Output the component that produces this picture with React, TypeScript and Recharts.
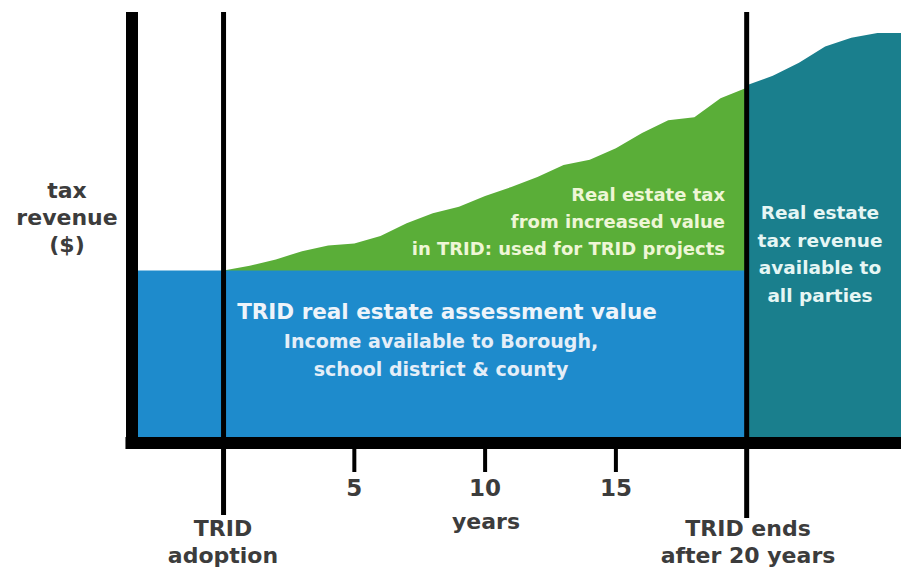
import React from "react";
import {
  ComposedChart,
  Area,
  XAxis,
  YAxis,
  ReferenceLine,
} from "recharts";

// years since TRID adoption (-3.5 = left edge, 25.9 = right edge)
const years = [
  -3.5, 0, 1, 2, 3, 4, 5, 6, 7, 8, 9, 10, 11, 12, 13, 14, 15, 16, 17, 18, 19, 20,
  21, 22, 23, 24, 25, 25.9,
];

// assessed base value revenue (blue)
const baseRevenue = [
  40, 40, 40, 40, 40, 40, 40, 40, 40, 40, 40, 40, 40, 40, 40, 40, 40, 40, 40, 40, 40, 40,
  null, null, null, null, null, null,
];

// total revenue while TRID is active (green part = increment above base)
const tridRevenue = [
  null, 40, 41.1, 42.6, 44.5, 45.8, 46.3, 48.0, 51.0, 53.3, 54.8, 57.3, 59.4, 61.7,
  64.5, 65.7, 68.4, 71.9, 74.9, 75.6, 80.0, 82.4,
  null, null, null, null, null, null,
];

// revenue after TRID ends (teal)
const afterRevenue = [
  null, null, null, null, null, null, null, null, null, null, null, null, null, null,
  null, null, null, null, null, null, null, 83.0,
  85.2, 88.2, 92.0, 94.0, 95.1, 95.1,
];

const xTicks = [5, 10, 15];

const chartData = years.map((year, i) => ({
  year,
  base: baseRevenue[i],
  trid: tridRevenue[i],
  after: afterRevenue[i],
}));

const FONT = "'DejaVu Sans', sans-serif";
const BLUE = "#1e8bcc";
const GREEN = "#5aae38";
const TEAL = "#1a7f8d";
const AXIS_TEXT = "#3c3c3c";

const textBase: React.CSSProperties = {
  position: "absolute",
  fontFamily: FONT,
  fontWeight: "bold",
  whiteSpace: "nowrap",
  lineHeight: 1,
};

export default function App() {
  return (
    <div
      style={{
        position: "absolute",
        left: 0,
        top: 0,
        width: 906,
        height: 571,
        background: "#fff",
      }}
    >
      <ComposedChart
        width={906}
        height={571}
        data={chartData}
        margin={{ top: 12, right: 5, left: 132, bottom: 68 }}
      >
        <XAxis
          dataKey="year"
          type="number"
          domain={[-3.5, 25.9]}
          ticks={xTicks}
          height={60}
          axisLine={false}
          tickSize={29}
          tickMargin={8}
          tickLine={{ stroke: "#000", strokeWidth: 4 }}
          tick={{ fill: AXIS_TEXT, fontSize: 23, fontWeight: "bold", fontFamily: FONT }}
        />
        <YAxis hide type="number" domain={[0, 100]} />
        <Area
          dataKey="trid"
          type="linear"
          fill={GREEN}
          fillOpacity={1}
          stroke="none"
          baseValue={0}
          isAnimationActive={false}
        />
        <Area
          dataKey="after"
          type="linear"
          fill={TEAL}
          fillOpacity={1}
          stroke="none"
          baseValue={0}
          isAnimationActive={false}
        />
        <Area
          dataKey="base"
          type="linear"
          fill={BLUE}
          fillOpacity={1}
          stroke="none"
          baseValue={0}
          isAnimationActive={false}
        />
        {/* TRID adoption and TRID end markers */}
        <ReferenceLine
          segment={[
            { x: 0, y: -16.7 },
            { x: 0, y: 100 },
          ]}
          stroke="#000"
          strokeWidth={5}
          ifOverflow="visible"
        />
        <ReferenceLine
          segment={[
            { x: 20, y: -17.4 },
            { x: 20, y: 100 },
          ]}
          stroke="#000"
          strokeWidth={5}
          ifOverflow="visible"
        />
        {/* heavy axes */}
        <ReferenceLine
          segment={[
            { x: -3.5, y: 0 },
            { x: -3.5, y: 100 },
          ]}
          stroke="#000"
          strokeWidth={12}
          ifOverflow="visible"
        />
        <ReferenceLine
          segment={[
            { x: -3.75, y: 0 },
            { x: 25.9, y: 0 },
          ]}
          stroke="#000"
          strokeWidth={12}
          ifOverflow="visible"
        />
      </ComposedChart>

      {/* y axis title */}
      <div
        style={{
          ...textBase,
          left: 8,
          top: 177,
          width: 118,
          textAlign: "center",
          color: AXIS_TEXT,
          fontSize: 22,
          lineHeight: "27px",
        }}
      >
        tax
        <br />
        revenue
        <br />
        ($)
      </div>

      {/* x axis annotations */}
      <div
        style={{
          ...textBase,
          left: 223 - 80,
          top: 515,
          width: 160,
          textAlign: "center",
          color: AXIS_TEXT,
          fontSize: 22,
          lineHeight: "27px",
        }}
      >
        TRID
        <br />
        adoption
      </div>
      <div
        style={{
          ...textBase,
          left: 486 - 50,
          top: 511,
          width: 100,
          textAlign: "center",
          color: AXIS_TEXT,
          fontSize: 22,
        }}
      >
        years
      </div>
      <div
        style={{
          ...textBase,
          left: 748 - 110,
          top: 515,
          width: 220,
          textAlign: "center",
          color: AXIS_TEXT,
          fontSize: 22,
          lineHeight: "27px",
        }}
      >
        TRID ends
        <br />
        after 20 years
      </div>

      {/* blue area text */}
      <div
        style={{
          ...textBase,
          left: 227,
          top: 301,
          width: 440,
          textAlign: "center",
          color: "#eef4fa",
          fontSize: 21.5,
        }}
      >
        TRID real estate assessment value
      </div>
      <div
        style={{
          ...textBase,
          left: 241,
          top: 327,
          width: 400,
          textAlign: "center",
          color: "#e4eef8",
          fontSize: 19,
          lineHeight: "28px",
        }}
      >
        Income available to Borough,
        <br />
        school district &amp; county
      </div>

      {/* green area text */}
      <div
        style={{
          ...textBase,
          left: 360,
          top: 181,
          width: 365,
          textAlign: "right",
          color: "#eef6d6",
          fontSize: 18,
          lineHeight: "27px",
        }}
      >
        Real estate tax
        <br />
        from increased value
        <br />
        in TRID: used for TRID projects
      </div>

      {/* teal area text */}
      <div
        style={{
          ...textBase,
          left: 745,
          top: 199,
          width: 150,
          textAlign: "center",
          color: "#e6f6f4",
          fontSize: 18.5,
          lineHeight: "27.7px",
        }}
      >
        Real estate
        <br />
        tax revenue
        <br />
        available to
        <br />
        all parties
      </div>
    </div>
  );
}
